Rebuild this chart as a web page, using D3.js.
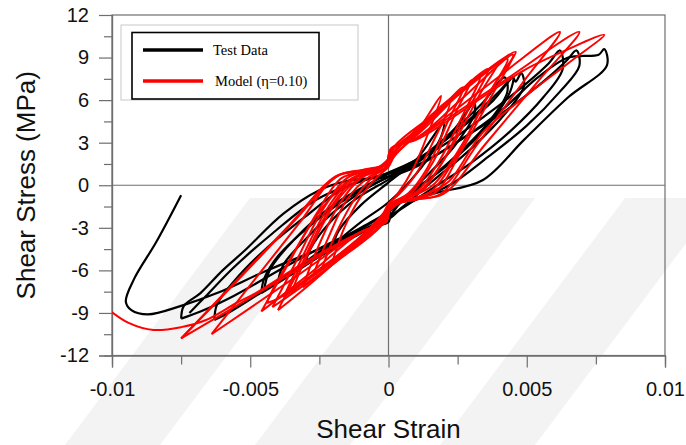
<!DOCTYPE html>
<html>
<head>
  <meta charset="utf-8">
  <script src="https://cdnjs.cloudflare.com/ajax/libs/d3/7.8.5/d3.min.js" type="text/javascript"></script>
  <style>
    body { margin: 0; background: #fff; }
    svg { display: block; }
  </style>
</head>
<body>
  <svg id="chart" width="686" height="445"></svg>
  <script>

// test data, one array per cycle: [shear strain, shear stress (MPa)]
var testCycle1 = [[-0.0030,-5.4],[-0.0028,-4.4],[-0.0022,-2.8],[-0.0012,-1.0],[0.0000,0.4],[0.0012,1.8],[0.0024,4.0],[0.0031,5.8],
  [0.0031,5.0],[0.0024,2.8],[0.0012,0.3],[0.0002,-1.6],[-0.0010,-3.0],[-0.0022,-4.3],[-0.0030,-5.4]];
var testCycle2 = [[-0.0040,-6.8],[-0.0038,-5.6],[-0.0030,-3.8],[-0.0018,-1.6],[-0.0006,0.0],[0.0008,1.4],[0.0022,3.6],[0.0034,5.8],[0.0042,7.6],
  [0.0043,6.6],[0.0036,4.4],[0.0024,2.0],[0.0012,0.0],[0.0000,-1.9],[-0.0012,-3.3],[-0.0028,-5.2],[-0.0040,-6.8]];
var testCycle3 = [[-0.0046,-7.6],[-0.0045,-6.6],[-0.0040,-5.0],[-0.0028,-2.8],[-0.0014,-0.8],[0.0000,0.6],[0.0014,2.2],[0.0028,4.4],[0.0040,6.6],[0.0045,7.6],[0.0046,7.3],[0.0048,7.9],
  [0.0049,7.0],[0.0042,5.0],[0.0030,2.6],[0.0016,0.3],[0.0002,-2.0],[-0.0004,-2.6],[-0.0020,-4.4],[-0.0036,-6.4],[-0.0046,-7.6]];
var testCycle4 = [[-0.0063,-9.5],[-0.0062,-8.4],[-0.0056,-6.8],[-0.0045,-4.6],[-0.0030,-2.2],[-0.0016,-0.2],[0.0000,0.9],[0.0018,2.6],[0.0035,4.9],[0.0050,7.2],[0.0058,8.6],[0.0062,9.5],
  [0.0063,8.2],[0.0056,6.2],[0.0044,3.8],[0.0030,1.6],[0.0016,-0.2],[0.0002,-2.0],[-0.0012,-3.6],[-0.0030,-5.6],[-0.0048,-7.8],[-0.0058,-9.0],[-0.0063,-9.5]];
var testCycle5 = [[-0.0075,-9.4],[-0.0074,-8.5],[-0.0068,-7.6],[-0.0060,-6.0],[-0.0052,-4.6],[-0.0038,-2.0],[-0.0025,-0.35],[-0.0014,0.35],[0.0000,0.6],[0.0010,1.3],[0.0026,3.2],[0.0042,5.2],[0.0056,7.3],[0.0064,8.7],[0.0068,9.5],
  [0.0069,8.4],[0.0062,6.6],[0.0050,4.2],[0.0036,2.0],[0.0022,0.0],[0.0006,-1.4],[0.0000,-2.4],[-0.0016,-3.6],[-0.0036,-5.6],[-0.0056,-7.8],[-0.0068,-8.9],[-0.0075,-9.4]];
var testCycle6 = [[-0.0072,-9.0],[-0.0066,-7.8],[-0.0056,-5.8],[-0.0042,-3.4],[-0.0026,-1.0],[-0.0010,0.3],[0.0010,1.4],[0.0026,3.2],[0.0041,5.3],[0.0054,7.6],[0.0065,9.0],[0.0076,9.2],[0.0078,9.6],
  [0.0079,8.45],[0.0065,6.2],[0.0049,3.2],[0.0034,0.35],[0.0018,-0.5],[0.0006,-1.1],[0.0001,-1.5],[0.0000,-2.6],[-0.0005,-2.9],[-0.0025,-4.5],[-0.0045,-6.1],[-0.0062,-7.6],[-0.0075,-8.5],
  [-0.0087,-9.1],[-0.0093,-8.8],[-0.0095,-8.2],[-0.0092,-6.6],[-0.0084,-4.0],[-0.0075,-0.7]];
var testCycle7 = [[-0.0045,-7.4],[-0.0043,-6.0],[-0.0034,-3.8],[-0.0020,-1.4],[-0.0006,0.2],[0.0010,1.8],[0.0026,4.0],[0.0038,6.0],[0.0045,7.6],
  [0.0044,6.6],[0.0034,3.8],[0.0020,1.2],[0.0006,-0.8],[0.0000,-2.2],[-0.0016,-3.9],[-0.0032,-5.8],[-0.0045,-7.4]];
var testCycle8 = [[-0.0020,-4.2],[-0.0018,-3.2],[-0.0010,-1.4],[0.0000,0.2],[0.0010,1.8],[0.0020,4.4],
  [0.0019,3.4],[0.0010,0.8],[0.0000,-1.2],[-0.0010,-2.6],[-0.0020,-4.2]];

// model (eta = 0.10), one array per cycle
var modelCycle1 = [[-0.0020,-5.2],[-0.0016,-3.0],[-0.0010,-0.8],[-0.0004,0.6],[0.0000,1.3],[0.0002,2.0],[0.0010,3.6],[0.0022,5.8],
  [0.0016,3.0],[0.0010,0.8],[0.0004,-0.6],[0.0000,-1.3],[-0.0002,-2.0],[-0.0010,-3.6],[-0.0020,-5.2]];
var modelCycle2 = [[-0.0027,-6.2],[-0.0022,-3.8],[-0.0015,-1.0],[-0.0007,0.6],[-0.0001,1.2],[0.0001,2.2],[0.0012,4.0],[0.0027,6.9],
  [0.0021,4.3],[0.0014,1.2],[0.0007,-0.6],[0.0001,-1.3],[-0.0001,-2.2],[-0.0012,-4.0],[-0.0027,-6.2]];
var modelCycle3 = [[-0.0031,-7.2],[-0.0026,-4.6],[-0.0018,-1.4],[-0.0010,0.5],[-0.0001,1.3],[0.0001,2.4],[0.0014,4.4],[0.0033,7.7],
  [0.0027,5.0],[0.0018,1.6],[0.0010,-0.5],[0.0001,-1.3],[-0.0001,-2.4],[-0.0014,-4.6],[-0.0031,-7.2]];
var modelCycle4 = [[-0.0038,-7.9],[-0.0031,-5.0],[-0.0022,-1.6],[-0.0013,0.5],[-0.0004,1.2],[0.0001,1.8],[0.0003,2.6],[0.0016,4.8],[0.0036,8.2],
  [0.0029,5.4],[0.0020,1.8],[0.0012,-0.4],[0.0003,-1.2],[-0.0001,-1.8],[-0.0003,-2.6],[-0.0017,-4.9],[-0.0038,-7.9]];
var modelCycle5 = [[-0.0042,-8.6],[-0.0034,-5.6],[-0.0024,-1.8],[-0.0015,0.5],[-0.0006,1.1],[0.0000,1.6],[0.0002,2.7],[0.0018,5.2],[0.0043,8.9],
  [0.0035,6.0],[0.0025,2.2],[0.0015,-0.5],[0.0006,-1.1],[0.0000,-1.6],[-0.0002,-2.7],[-0.0019,-5.4],[-0.0042,-8.6]];
var modelCycle6 = [[-0.0046,-8.9],[-0.0037,-5.8],[-0.0026,-2.0],[-0.0017,0.5],[-0.0008,1.0],[-0.0001,1.5],[0.0001,2.6],[0.0010,3.3],[0.0026,6.0],[0.0045,9.2],
  [0.0037,6.2],[0.0026,2.3],[0.0017,-0.5],[0.0008,-1.0],[0.0001,-1.5],[-0.0001,-2.6],[-0.0010,-3.3],[-0.0027,-6.0],[-0.0046,-8.9]];
var modelCycle7 = [[-0.0064,-10.5],[-0.00505,-7.17],[-0.00325,-2.73],[-0.0019,0.6],[-0.0010,1.0],[-0.0001,1.45],[0.0001,2.6],[0.0009,3.2],[0.00355,7.0],[0.0062,10.8],
  [0.00491,7.38],[0.00319,2.82],[0.0019,-0.6],[0.0010,-1.0],[0.0001,-1.45],[-0.0001,-2.6],[-0.0009,-3.2],[-0.00365,-6.85],[-0.0064,-10.5]];
var modelCycle8 = [[-0.0075,-10.8],[-0.00582,-7.37],[-0.00358,-2.79],[-0.0019,0.65],[-0.0010,1.05],[-0.0001,1.5],[0.0001,2.6],[0.0009,3.2],[0.0039,7.0],[0.0069,10.8],
  [0.00543,7.38],[0.00347,2.82],[0.0020,-0.6],[0.0010,-1.0],[0.0001,-1.5],[-0.0001,-2.6],[-0.0009,-3.2],[-0.0042,-7.0],[-0.0075,-10.8]];
var modelCycle9 = [[-0.0075,-10.8],[-0.00575,-7.3],[-0.0035,-2.7],[-0.0018,0.7],[-0.0009,1.1],[-0.0001,1.5],[0.0002,2.7],[0.0010,3.2],[0.0018,4.1],[0.0034,6.2],[0.0049,8.1],[0.0064,9.5],[0.0078,10.6],
  [0.0065,8.6],[0.0049,6.2],[0.0034,3.7],[0.0022,0.3],[0.0015,-0.5],[0.0008,-1.0],[0.0001,-1.5],[-0.0001,-2.6],[-0.0009,-3.2],[-0.0030,-5.4],[-0.0048,-7.6],[-0.0055,-8.3],
  [-0.0066,-9.5],[-0.0075,-10.0],[-0.0085,-10.2],[-0.0094,-9.7],[-0.0101,-8.8],[-0.0106,-8.0]];
var modelCycle10 = [[-0.0035,-7.6],[-0.0034,-7.0],[-0.0028,-4.4],[-0.0019,-1.2],[-0.0010,0.6],[-0.0002,1.3],[0.0002,2.3],[0.0018,5.4],[0.0038,8.4],[0.0040,8.7],
  [0.0033,6.4],[0.0022,2.4],[0.0012,-0.3],[0.0002,-1.3],[-0.0002,-2.3],[-0.0016,-4.8],[-0.0033,-7.2],[-0.0035,-7.6]];
var modelCycle11 = [[-0.0044,-8.3],[-0.0043,-7.8],[-0.0035,-5.0],[-0.0024,-1.6],[-0.0014,0.4],[-0.0004,1.2],[0.0001,2.0],[0.0014,4.2],[0.0028,7.0],[0.0030,7.4],
  [0.0024,5.0],[0.0016,1.6],[0.0008,-0.6],[0.0000,-1.4],[-0.0002,-2.4],[-0.0020,-5.2],[-0.0040,-8.0],[-0.0044,-8.3]];
var modelCycle12 = [[-0.0024,-5.8],[-0.0019,-3.4],[-0.0012,-0.9],[-0.0005,0.7],[0.0000,1.4],[0.0002,2.3],[0.0011,4.0],[0.0019,6.3],
  [0.0015,4.0],[0.0009,1.2],[0.0003,-0.7],[0.0000,-1.4],[-0.0002,-2.3],[-0.0012,-4.2],[-0.0024,-5.8]];
var modelCycle13 = [[-0.0040,-8.8],[-0.0032,-5.8],[-0.0022,-1.9],[-0.0012,0.5],[-0.0003,1.2],[0.0001,2.1],[0.0020,5.6],[0.0042,9.0],[0.0046,9.4],
  [0.0038,7.0],[0.0027,3.0],[0.0016,0.0],[0.0005,-1.1],[-0.0001,-2.0],[-0.0018,-5.2],[-0.0036,-8.2],[-0.0040,-8.8]];

var testCycles = [testCycle1, testCycle2, testCycle3, testCycle4, testCycle5, testCycle6, testCycle7, testCycle8];
var modelCycles = [modelCycle1, modelCycle2, modelCycle3, modelCycle4, modelCycle5, modelCycle6, modelCycle7,
  modelCycle8, modelCycle9, modelCycle10, modelCycle11, modelCycle12, modelCycle13];

var xTicks = [-0.01, -0.005, 0, 0.005, 0.01];
var yTicks = [-12, -9, -6, -3, 0, 3, 6, 9, 12];
var legendLabels = ["Test Data", "Model (\u03b7=0.10)"];

var svg = d3.select("#chart");
var plotLeft = 112, plotRight = 665, plotTop = 15, plotBottom = 355.5;

var x = d3.scaleLinear().domain([-0.01, 0.01]).range([plotLeft, plotRight]);
var y = d3.scaleLinear().domain([-12, 12]).range([plotBottom, plotTop]);

var axisColor = "#6e6e6e";

// faint watermark stripes behind the chart
var stripeStarts = [250, 440, 625];
svg.append("g").selectAll("polygon").data(stripeStarts).enter().append("polygon")
  .attr("points", function(s) {
    return [[s, 198], [s + 95, 198], [s + 95 - 185, 445], [s - 185, 445]].join(" ");
  })
  .attr("fill", "#f3f3f3");

svg.append("defs").append("clipPath").attr("id", "plotClip")
  .append("rect").attr("x", plotLeft).attr("y", plotTop).attr("width", plotRight - plotLeft).attr("height", plotBottom - plotTop);

// frame and zero lines
svg.append("rect").attr("x", plotLeft).attr("y", plotTop).attr("width", plotRight - plotLeft).attr("height", plotBottom - plotTop)
  .attr("fill", "none").attr("stroke", axisColor).attr("stroke-width", 1.2);
svg.append("line").attr("x1", plotLeft).attr("x2", plotRight).attr("y1", y(0)).attr("y2", y(0))
  .attr("stroke", axisColor).attr("stroke-width", 1.2);
svg.append("line").attr("x1", x(0)).attr("x2", x(0)).attr("y1", plotTop).attr("y2", plotBottom)
  .attr("stroke", axisColor).attr("stroke-width", 1.2);

// axes
var yAxis = d3.axisLeft(y).tickValues(yTicks).tickSize(13).tickPadding(10).tickFormat(function(d) { return String(d); });
var gy = svg.append("g").attr("transform", "translate(" + plotLeft + ",0)").call(yAxis);
var yMinor = d3.axisLeft(y).tickValues(d3.range(-10.5, 12, 3)).tickSize(8).tickFormat("");
var gym = svg.append("g").attr("transform", "translate(" + plotLeft + ",0)").call(yMinor);

var xAxis = d3.axisBottom(x).tickValues(xTicks).tickSize(12).tickPadding(14)
  .tickFormat(function(d) { return d === 0 ? "0" : String(+d.toFixed(3)); });
var gx = svg.append("g").attr("transform", "translate(0," + plotBottom + ")").call(xAxis);
var xMinor = d3.axisBottom(x).tickValues([-0.0075, -0.0025, 0.0025, 0.0075]).tickSize(9).tickFormat("");
var gxm = svg.append("g").attr("transform", "translate(0," + plotBottom + ")").call(xMinor);

[gy, gym, gx, gxm].forEach(function(g) {
  g.select(".domain").attr("stroke", axisColor).attr("stroke-width", 1.2);
  g.selectAll(".tick line").attr("stroke", axisColor).attr("stroke-width", 1.2);
  g.selectAll(".tick text").attr("fill", "#111").style("font-family", "Liberation Sans, Arial, sans-serif").style("font-size", "20px");
});

// curves
var line = d3.line()
  .x(function(d) { return x(d[0]); })
  .y(function(d) { return y(d[1]); })
  .curve(d3.curveCatmullRom.alpha(0.5));

var plot = svg.append("g").attr("clip-path", "url(#plotClip)");

plot.selectAll(".test").data(testCycles).enter().append("path")
  .attr("class", "test")
  .attr("d", line)
  .attr("fill", "none").attr("stroke", "#000").attr("stroke-width", 2.2).attr("stroke-linejoin", "round");

plot.selectAll(".model").data(modelCycles).enter().append("path")
  .attr("class", "model")
  .attr("d", line)
  .attr("fill", "none").attr("stroke", "#ff0000").attr("stroke-width", 2).attr("stroke-linejoin", "round");

// axis titles
svg.append("text").attr("x", x(0)).attr("y", 438).attr("text-anchor", "middle")
  .style("font-family", "Liberation Sans, Arial, sans-serif").style("font-size", "26px").attr("fill", "#111")
  .text("Shear Strain");
svg.append("text").attr("transform", "translate(35," + ((plotTop + plotBottom) / 2) + ") rotate(-90)").attr("text-anchor", "middle")
  .style("font-family", "Liberation Sans, Arial, sans-serif").style("font-size", "26px").attr("fill", "#111")
  .text("Shear Stress (MPa)");

// legend
var legend = svg.append("g");
legend.append("rect").attr("x", 121).attr("y", 25).attr("width", 237).attr("height", 75)
  .attr("fill", "#fff").attr("stroke", "#c8c8c8").attr("stroke-width", 1);
legend.append("rect").attr("x", 132).attr("y", 32.5).attr("width", 187).attr("height", 66.5)
  .attr("fill", "#fff").attr("stroke", "#000").attr("stroke-width", 1.6);

var legendColors = ["#000", "#ff0000"];
var item = legend.selectAll(".item").data(legendLabels).enter().append("g")
  .attr("transform", function(d, i) { return "translate(0," + (50 + i * 31) + ")"; });
item.append("line").attr("x1", 143).attr("x2", 203).attr("y1", 0).attr("y2", 0)
  .attr("stroke", function(d, i) { return legendColors[i]; }).attr("stroke-width", 3.6);
item.append("text").attr("x", function(d, i) { return i === 0 ? 213 : 215; }).attr("y", 4.5)
  .style("font-family", "Liberation Serif, Times New Roman, serif").style("font-size", "14.5px").attr("fill", "#000")
  .text(function(d) { return d; });

  </script>
</body>
</html>
